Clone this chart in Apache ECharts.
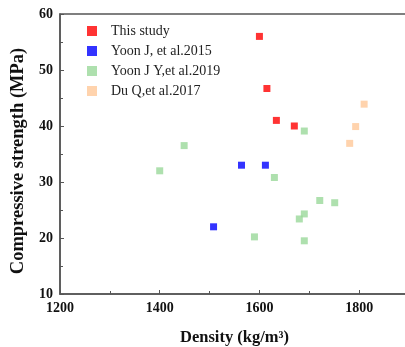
<!DOCTYPE html>
<html><head><meta charset="utf-8">
<script src="https://cdn.jsdelivr.net/npm/echarts@6/dist/echarts.min.js"></script>
<style>html,body{margin:0;padding:0;background:#fff}#c{width:405px;height:347px}</style>
</head><body><div id="c"></div>
<script>
const seriesNames = ['This study', 'Yoon J, et al.2015', 'Yoon J Y,et al.2019', 'Du Q,et al.2017'];
const thisStudy = [[1600, 56], [1615, 46.7], [1634, 41], [1670, 40]];
const yoon2015 = [[1564, 33], [1612, 33], [1508, 22]];
const yoon2019 = [[1400, 32], [1449, 36.5], [1630, 30.8], [1690, 39.1], [1721, 26.7], [1751, 26.3], [1690, 24.3], [1680, 23.4], [1590, 20.2], [1690, 19.5]];
const du2017 = [[1810, 43.9], [1793, 39.9], [1781, 36.9]];
const colors = ['#ff0000', '#0000ff', '#9ad89a', '#ffc898'];
const dataSets = [thisStudy, yoon2015, yoon2019, du2017];

const font = '"Liberation Serif", "Times New Roman", serif';
const axisColor = '#555';
const chart = echarts.init(document.getElementById('c'));
chart.setOption({
  animation: false,
  grid: { left: 60, top: 14, bottom: 53, right: -4, outerBoundsMode: 'none', containLabel: false,
    show: true, borderColor: axisColor, borderWidth: 1.5 },
  legend: {
    orient: 'vertical', left: 82, top: 19, itemWidth: 10, itemHeight: 10, itemGap: 6,
    icon: 'rect',
    textStyle: { fontFamily: font, fontSize: 14, color: '#222', padding: [0, 0, 0, 9] },
    data: seriesNames
  },
  xAxis: {
    type: 'value', min: 1200, max: 1900, interval: 200,
    name: 'Density (kg/m³)', nameLocation: 'middle', nameGap: 35,
    nameTextStyle: { fontFamily: font, fontSize: 16.5, fontWeight: 'bold', color: '#111' },
    axisLine: { lineStyle: { color: axisColor, width: 1.5 } },
    axisTick: { inside: true, length: 4, lineStyle: { color: axisColor } },
    minorTick: { show: true, splitNumber: 2, length: 3, lineStyle: { color: axisColor } },
    axisLabel: { fontFamily: font, fontSize: 14, fontWeight: 'bold', color: '#111', margin: 7, showMaxLabel: false,
      formatter: v => String(v) },
    splitLine: { show: false }
  },
  yAxis: {
    type: 'value', min: 10, max: 60, interval: 10,
    name: 'Compressive strength (MPa)', nameLocation: 'middle', nameGap: 30,
    nameTextStyle: { fontFamily: font, fontSize: 18.5, fontWeight: 'bold', color: '#111', padding: [0, 14, 0, 0] },
    axisLine: { lineStyle: { color: axisColor, width: 1.5 } },
    axisTick: { inside: true, length: 4, lineStyle: { color: axisColor } },
    minorTick: { show: true, splitNumber: 2, length: 3, lineStyle: { color: axisColor } },
    axisLabel: { fontFamily: font, fontSize: 14, fontWeight: 'bold', color: '#111', margin: 7 },
    splitLine: { show: false }
  },
  series: seriesNames.map((n, i) => ({
    name: n, type: 'scatter', symbol: 'rect', symbolSize: 7,
    itemStyle: { color: colors[i] }, data: dataSets[i]
  }))
});
</script></body></html>
